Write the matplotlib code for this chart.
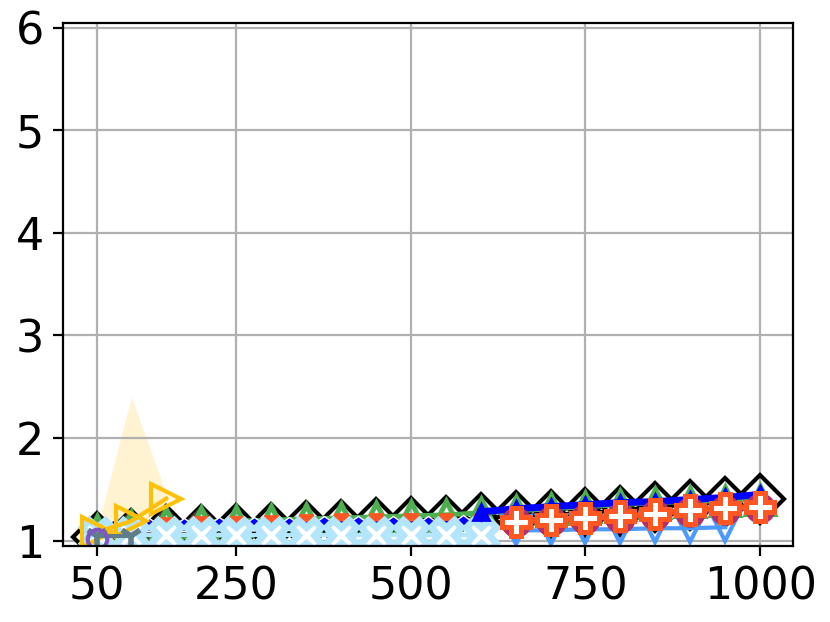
import matplotlib
matplotlib.use("Agg")
import matplotlib.pyplot as plt
import numpy as np

# ---- data ----
x_all = [50, 100, 150, 200, 250, 300, 350, 400, 450, 500,
         550, 600, 650, 700, 750, 800, 850, 900, 950, 1000]
black_d = [1.03, 1.06, 1.10, 1.10, 1.11, 1.12, 1.14, 1.155, 1.17, 1.18,
           1.19, 1.22, 1.24, 1.25, 1.27, 1.29, 1.33, 1.35, 1.38, 1.41]
green_t = [1.10, 1.14, 1.17, 1.18, 1.19, 1.20, 1.21, 1.22, 1.23, 1.24,
           1.25, 1.27, 1.29, 1.31, 1.33, 1.35, 1.37, 1.38, 1.39, 1.40]

x_brown = [100, 150, 200]
brown_d = [1.05, 1.08, 1.09]

x_small = [50, 100, 150, 200, 250, 300, 350, 400, 450, 500, 550, 600]
tomato_s = [1.10, 1.14, 1.16, 1.17, 1.17, 1.18, 1.19, 1.20, 1.20, 1.20, 1.20, 1.19]
xblue_x = [50, 100, 150, 200, 250, 300, 350, 400, 450, 500, 550, 600]
xblue_y = [1.055, 1.055, 1.055, 1.055, 1.055, 1.055, 1.055, 1.055, 1.055, 1.055, 1.055, 1.055]

x_bsmall = [75, 125, 175, 225, 275, 325, 375, 425, 475, 525, 575]
blue_small = [1.14, 1.15, 1.15, 1.16, 1.16, 1.16, 1.17, 1.17, 1.17, 1.17, 1.18]
x_cyan = [50, 100, 150, 200, 250, 300, 350, 400, 450, 500, 550, 600]
cyan_y = [1.01, 1.02, 1.02, 1.02, 1.02, 1.02, 1.02, 1.02, 1.02, 1.02, 1.02, 1.02]

x_blue = [600, 650, 700, 750, 800, 850, 900, 950, 1000]
blue_y = [1.28, 1.31, 1.33, 1.35, 1.37, 1.38, 1.40, 1.42, 1.45]

x_late = [650, 700, 750, 800, 850, 900, 950, 1000]
tomato_p = [1.185, 1.20, 1.22, 1.235, 1.26, 1.30, 1.32, 1.33]
maroon_o = [1.18, 1.19, 1.21, 1.22, 1.25, 1.28, 1.30, 1.32]

x_v = [650, 700, 750, 800, 850, 900, 950]
v_y = [1.10, 1.10, 1.11, 1.11, 1.12, 1.12, 1.13]

x_gold = [50, 100, 150]
gold_y = [1.08, 1.19, 1.41]
gold_lo = [1.00, 1.00, 1.00]
gold_hi = [1.10, 2.40, 1.45]

x_purple = [50]
purple_y = [1.02]
x_gray = [50, 100]
gray_y = [1.04, 1.04]

y_ticks = [1, 2, 3, 4, 5, 6]
x_ticks = [50, 250, 500, 750, 1000]

# ---- figure ----
fig = plt.figure(figsize=(4.15, 3.11), dpi=200)
ax = fig.add_axes([0.0763, 0.1227, 0.8795, 0.8408])

ax.fill_between(x_gold, gold_lo, gold_hi, color='#FFC107', alpha=0.18, lw=0)

ax.plot(x_all, black_d, color='black', lw=1.5, marker='D', ms=12,
        mfc='none', mec='black', mew=1.5)
ax.plot(x_brown, brown_d, color='#5D4037', lw=1.5, marker='D', ms=11,
        mfc='none', mec='#5D4037', mew=1.5)
ax.plot(x_all, green_t, color='#4CAF50', lw=1.8, marker='^', ms=10,
        mfc='none', mec='#4CAF50', mew=1.8)
ax.plot(x_small, tomato_s, color='#FF5722', lw=0, marker='s', ms=4)
ax.plot(x_bsmall, blue_small, color='blue', lw=1.2, marker='p', ms=5,
        mec='white', mew=0.5)
ax.plot(x_cyan, cyan_y, color='#00BCD4', lw=0, marker='v', ms=4)
ax.plot(xblue_x, xblue_y, color='#B3E5FC', lw=1.5, marker='X', ms=11,
        mfc='white', mec='#B3E5FC', mew=2.5)
ax.plot(x_v, v_y, color='#4C9AFF', lw=1.5, marker='v', ms=10,
        mfc='none', mec='#4C9AFF', mew=1.5)
ax.plot(x_blue, blue_y, color='blue', lw=2.5, marker='^', ms=6,
        mfc='blue', mec='blue')
ax.plot(x_late, maroon_o, color='#B0306A', lw=1.5, marker='o', ms=10,
        mfc='#B0306A', mec='#B0306A')
ax.plot(x_late, tomato_p, color='#FF5722', lw=2.0, marker='P', ms=10,
        mfc='white', mec='#FF5722', mew=1.8)
ax.plot(x_gold, gold_y, color='#FFC107', lw=1.5, marker='>', ms=11,
        mfc='none', mec='#FFC107', mew=1.5)
ax.plot(x_gray, gray_y, color='#607D8B', lw=1.5, marker='1', ms=8, mew=2)
ax.plot(x_purple, purple_y, color='#7E57C2', lw=0, marker='o', ms=7,
        mfc='none', mec='#7E57C2', mew=1.5)

ax.set_xlim(2.5, 1047.5)
ax.set_ylim(0.95, 6.05)
ax.set_xticks(x_ticks)
ax.set_yticks(y_ticks)
ax.tick_params(labelsize=16)
ax.grid(True)

fig.savefig("out.png", dpi=200)
